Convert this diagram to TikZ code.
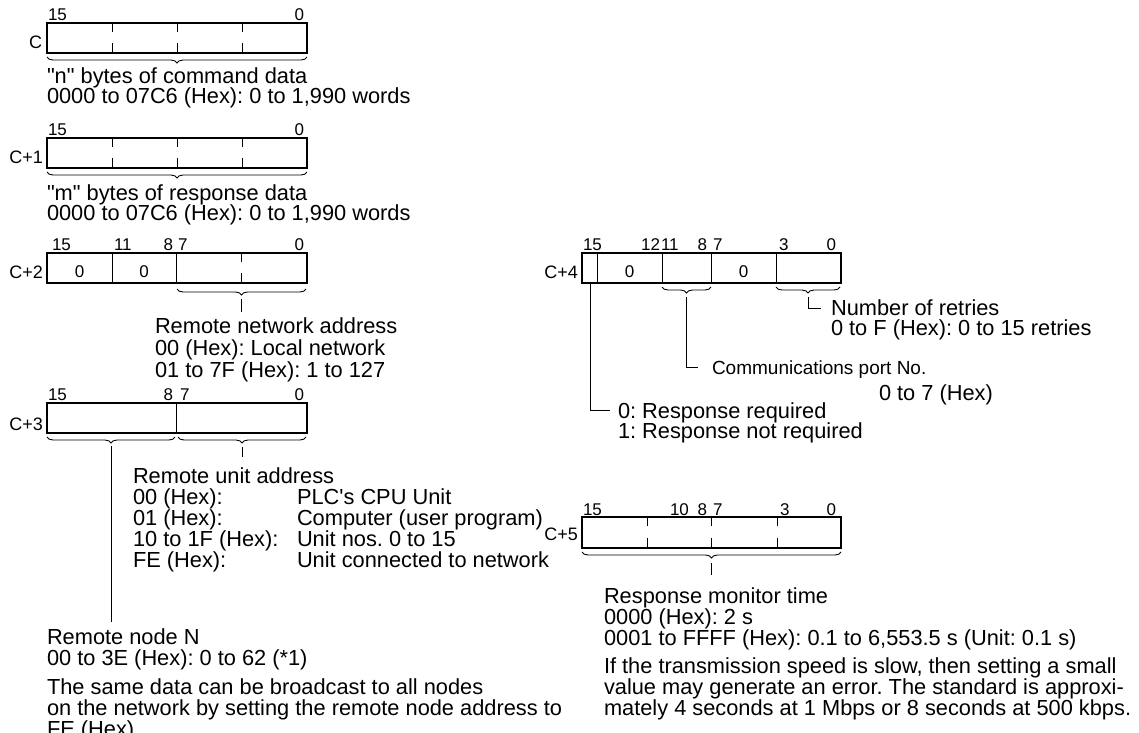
\documentclass[tikz,border=0pt]{standalone}
\usepackage{fontspec}
\setmainfont{Liberation Sans}[Ligatures=TeXOff]
\usetikzlibrary{decorations.pathreplacing}
\frenchspacing
\begin{document}
\begin{tikzpicture}[x=1pt,y=-1pt,
  every node/.style={inner sep=0pt, outer sep=0pt},
  txt/.style={anchor=base west, font=\fontsize{21.8}{21}\selectfont\frenchspacing},
  txtsm/.style={anchor=base west, font=\fontsize{19}{19}\selectfont\frenchspacing},
  bitL/.style={anchor=base west, font=\fontsize{17}{17}\selectfont},
  bitR/.style={anchor=base east, font=\fontsize{17}{17}\selectfont},
  reg/.style={anchor=base east, font=\fontsize{18}{18}\selectfont},
  cell/.style={font=\fontsize{17}{17}\selectfont},
  regbox/.style={draw, line width=1.1pt, minimum height=30pt, inner sep=0pt, anchor=north west},
  wire/.style={line width=1pt},
  brc/.style={decorate, decoration={brace, mirror, amplitude=6pt}, line width=0.9pt},
]
\useasboundingbox (0,0) rectangle (1139,732);
\clip (0,0) rectangle (1139,732);

% ---------- C ----------
\node[bitL] (c0b15) at (48,20) {15};
\node[bitR] (c0b0) at (304,20) {0};
\node[reg] (c0l) at (42,48) {C};
\node[regbox, minimum width=260pt] (c0) at (47,23) {};
\foreach \x in {112,177,242}{\draw[wire] (\x,23) -- (\x,32) (\x,43) -- (\x,53);}
\draw[brc] (47,57) -- (307,57);
\node[txt] (c0t1) at (47,83) {"n" bytes of command data};
\node[txt] (c0t2) at (47,103) {0000 to 07C6 (Hex): 0 to 1,990 words};

% ---------- C+1 ----------
\node[bitL] (c1b15) at (48,135) {15};
\node[bitR] (c1b0) at (304,135) {0};
\node[reg] (c1l) at (43,163) {C+1};
\node[regbox, minimum width=260pt] (c1) at (47,138) {};
\foreach \x in {112,177,242}{\draw[wire] (\x,138) -- (\x,147) (\x,158) -- (\x,168);}
\draw[brc] (47,172) -- (307,172);
\node[txt] (c1t1) at (47,200) {"m" bytes of response data};
\node[txt] (c1t2) at (47,220) {0000 to 07C6 (Hex): 0 to 1,990 words};

% ---------- C+2 ----------
\node[bitL] (c2b15) at (52,250) {15};
\node[bitL] (c2b11) at (114,250) {11};
\node[bitR] (c2b8) at (173,250) {8};
\node[bitL] (c2b7) at (178,250) {7};
\node[bitR] (c2b0) at (304,250) {0};
\node[reg] (c2l) at (43,278) {C+2};
\node[regbox, minimum width=260pt] (c2) at (47,253) {};
\draw[wire] (112,253) -- (112,283) (176,253) -- (176,283);
\draw[wire] (241,253) -- (241,262) (241,273) -- (241,283);
\node[cell] (c2z1) at (79.5,272) {0};
\node[cell] (c2z2) at (144,272) {0};
\draw[brc] (177,289) -- (306,289);
\coordinate (c2tk1) at (241.5,299);
\coordinate (c2tk2) at (241.5,312);
\draw[wire] (c2tk1) -- (c2tk2);
\node[txt] (c2t1) at (155,333) {Remote network address};
\node[txt] (c2t2) at (155,355) {00 (Hex): Local network};
\node[txt] (c2t3) at (155,377) {01 to 7F (Hex): 1 to 127};

% ---------- C+3 ----------
\node[bitL] (c3b15) at (48,400) {15};
\node[bitR] (c3b8) at (173,400) {8};
\node[bitL] (c3b7) at (180,400) {7};
\node[bitR] (c3b0) at (304,400) {0};
\node[reg] (c3l) at (43,430) {C+3};
\node[regbox, minimum width=260pt] (c3) at (47,403) {};
\draw[wire] (176,403) -- (176,433);
\draw[brc] (47,437) -- (175,437);
\draw[brc] (178,437) -- (306,437);
\coordinate (c3tk1) at (242,447);
\coordinate (c3tk2) at (242,457);
\draw[wire] (c3tk1) -- (c3tk2);
\coordinate (c3ln1) at (111,446);
\coordinate (c3ln2) at (111,622);
\draw[wire] (c3ln1) -- (c3ln2);
\node[txt] (c3t1) at (133,483) {Remote unit address};
\node[txt] (c3a1) at (133,504) {00 (Hex):};
\node[txt] (c3a2) at (133,525) {01 (Hex):};
\node[txt] (c3a3) at (133,546) {10 to 1F (Hex):};
\node[txt] (c3a4) at (133,567) {FE (Hex):};
\node[txt] (c3b1) at (297,504) {PLC's CPU Unit};
\node[txt] (c3b2) at (297,525) {Computer (user program)};
\node[txt] (c3b3) at (297,546) {Unit nos. 0 to 15};
\node[txt] (c3b4) at (297,567) {Unit connected to network};

\node[txt] (rn1) at (47,644) {Remote node N};
\node[txt] (rn2) at (47,665) {00 to 3E (Hex): 0 to 62 (*1)};
\node[txt] (rn3) at (47,694) {The same data can be broadcast to all nodes};
\node[txt] (rn4) at (47,715) {on the network by setting the remote node address to};
\node[txt] (rn5) at (47,736) {FE (Hex)};

% ---------- C+4 ----------
\node[bitL] (c4b15) at (583,250) {15};
\node[bitR] (c4b12) at (660,250) {12};
\node[bitL] (c4b11) at (661,250) {11};
\node[bitR] (c4b8) at (707,250) {8};
\node[bitL] (c4b7) at (713,250) {7};
\node[bitL] (c4b3) at (779,250) {3};
\node[bitR] (c4b0) at (836,250) {0};
\node[reg] (c4l) at (578,278) {C+4};
\node[regbox, minimum width=259pt] (c4) at (582,253) {};
\foreach \x in {597.5,662,711,776}{\draw[wire] (\x,253) -- (\x,283);}
\node[cell] (c4z1) at (629.5,272) {0};
\node[cell] (c4z2) at (743.5,272) {0};
\draw[brc] (662,287) -- (711,287);
\draw[brc] (776,287) -- (840,287);
% response flag
\coordinate (c4r0) at (590,283);
\coordinate (c4r1) at (590,410);
\coordinate (c4r2) at (610,410);
\draw[wire] (c4r0) -- (c4r1) -- (c4r2);
\node[txt] (c4rt1) at (618,418) {0: Response required};
\node[txt] (c4rt2) at (618,438) {1: Response not required};
% comm port
\coordinate (c4p0) at (686.5,297);
\coordinate (c4p1) at (686.5,367);
\coordinate (c4p2) at (698,367);
\draw[wire] (c4p0) -- (c4p1) -- (c4p2);
\node[txtsm] (c4pt1) at (712,374) {Communications port No.};
\node[txt] (c4pt2) at (879,400) {0 to 7 (Hex)};
% retries
\coordinate (c4n0) at (808,297);
\coordinate (c4n1) at (808,308);
\coordinate (c4n2) at (821,308);
\draw[wire] (c4n0) -- (c4n1) -- (c4n2);
\node[txt] (c4nt1) at (831,315) {Number of retries};
\node[txt] (c4nt2) at (831,335) {0 to F (Hex): 0 to 15 retries};

% ---------- C+5 ----------
\node[bitL] (c5b15) at (583,515) {15};
\node[bitL] (c5b10) at (670,515) {10};
\node[bitR] (c5b8) at (707,515) {8};
\node[bitL] (c5b7) at (713,515) {7};
\node[bitL] (c5b3) at (780,515) {3};
\node[bitR] (c5b0) at (836,515) {0};
\node[reg] (c5l) at (578,540) {C+5};
\node[regbox, minimum width=259pt, minimum height=31pt] (c5) at (582,517) {};
\foreach \x in {647,711,777}{\draw[wire] (\x,517) -- (\x,526) (\x,538) -- (\x,548);}
\draw[brc] (582,552) -- (841,552);
\coordinate (c5tk1) at (711.5,563);
\coordinate (c5tk2) at (711.5,575);
\draw[wire] (c5tk1) -- (c5tk2);
\node[txt] (c5t1) at (604,603) {Response monitor time};
\node[txt] (c5t2) at (604,624) {0000 (Hex): 2 s};
\node[txt] (c5t3) at (604,645) {0001 to FFFF (Hex): 0.1 to 6,553.5 s (Unit: 0.1 s)};
\node[txt] (c5t4) at (604,673) {If the transmission speed is slow, then setting a small};
\node[txt] (c5t5) at (604,694) {value may generate an error. The standard is approxi-};
\node[txt] (c5t6) at (604,715) {mately 4 seconds at 1 Mbps or 8 seconds at 500 kbps.};
\end{tikzpicture}
\end{document}
